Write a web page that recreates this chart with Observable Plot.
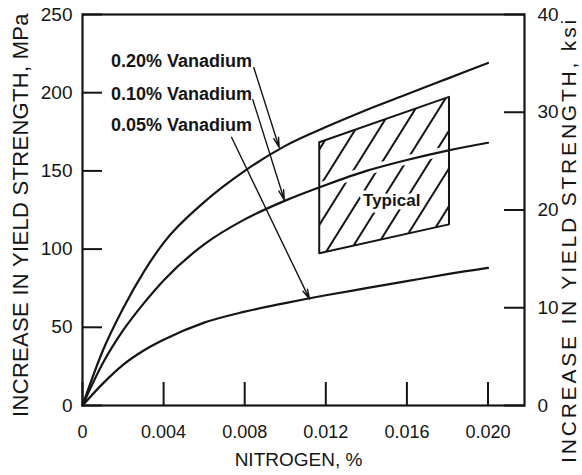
<!DOCTYPE html>
<html><head><meta charset="utf-8">
<script src="https://cdn.jsdelivr.net/npm/d3@7"></script>
<script src="https://cdn.jsdelivr.net/npm/@observablehq/plot@0.6"></script>
<style>body{margin:0;background:#fff}</style>
</head><body><div id="chart"></div>
<script>
// Nitrogen content, % (x) and increase in yield strength, MPa (y)
const nitrogen = [0, 0.001, 0.002, 0.003, 0.004, 0.006, 0.008, 0.010, 0.012, 0.014, 0.016, 0.018, 0.020];
const v020 = [0, 35, 62, 85, 104, 130, 150, 166, 178, 189, 199, 209, 219];
const v010 = [0, 27, 48, 65, 80, 103, 119, 131, 141, 150, 157, 163, 168];
const v005 = [0, 14, 26, 35, 42, 53, 60, 65.5, 70.5, 75, 79.5, 84, 88];

// "Typical" hatched band
const boxN = [0.0117, 0.0181];
const boxLow = [97, 115.5];
const boxHigh = [168, 197];
const typicalN = 0.01525, typicalY = 131;

// curve labels and leader arrows
const labelText = ["0.20% Vanadium", "0.10% Vanadium", "0.05% Vanadium"];
const labelN = [0.0014, 0.0014, 0.0014];
const labelY = [220, 199, 179];
const leadN1 = [0.00845, 0.0084, 0.00735];
const leadY1 = [216, 195.5, 171.5];
const leadN2 = [0.0097, 0.00995, 0.0112];
const leadY2 = [165, 131.5, 68];

// ticks
const xTicks = [0, 0.004, 0.008, 0.012, 0.016, 0.020];
const mpaTicks = [0, 50, 100, 150, 200, 250];
const ksiTicks = [0, 10, 20, 30, 40];
const ksiToAxis = 250 / 40;

const rows = (ys) => nitrogen.map((n, i) => ({n, v: ys[i]}));
const box = boxN.map((n, i) => ({n, lo: boxLow[i], hi: boxHigh[i]}));
const ink = "#151515";

const svg = Plot.plot({
  width: 582, height: 475,
  marginLeft: 82, marginRight: 58, marginTop: 14, marginBottom: 70,
  style: {fontFamily: "'Liberation Sans', Arial, sans-serif", color: ink, background: "#fff"},
  x: {type: "linear", domain: [0, 0.0218]},
  y: {type: "linear", domain: [0, 250]},
  marks: [
    Plot.areaY(box, {x: "n", y1: "lo", y2: "hi", fill: "url(#hatch)", curve: "linear"}),
    Plot.line(rows(v010), {x: "n", y: "v", stroke: "#fff", strokeWidth: 9, curve: "monotone-x"}),
    Plot.text(["Typical"], {x: typicalN, y: typicalY, text: d => d, fontSize: 17, fontWeight: "bold", fill: ink, stroke: "#fff", strokeWidth: 7}),
    Plot.areaY(box, {x: "n", y1: "lo", y2: "hi", fill: "none", stroke: ink, strokeWidth: 2, curve: "linear"}),
    Plot.line(rows(v020), {x: "n", y: "v", stroke: ink, strokeWidth: 2.2, curve: "monotone-x"}),
    Plot.line(rows(v010), {x: "n", y: "v", stroke: ink, strokeWidth: 2.2, curve: "monotone-x"}),
    Plot.line(rows(v005), {x: "n", y: "v", stroke: ink, strokeWidth: 2.2, curve: "monotone-x"}),
    Plot.arrow(labelText, {x1: (d, i) => leadN1[i], y1: (d, i) => leadY1[i], x2: (d, i) => leadN2[i], y2: (d, i) => leadY2[i], stroke: ink, strokeWidth: 1.4, headLength: 11, headAngle: 28}),
    Plot.text(labelText, {x: (d, i) => labelN[i], y: (d, i) => labelY[i], text: d => d, textAnchor: "start", fontSize: 18, fontWeight: "bold", fill: ink}),
    Plot.frame({stroke: ink, strokeWidth: 2.2}),
    Plot.axisX(xTicks, {anchor: "bottom", tickSize: -23, tickPadding: 43, strokeWidth: 2, fontSize: 18, label: null, tickFormat: d => d === 0 ? "0" : d.toFixed(3)}),
    Plot.axisY(mpaTicks, {anchor: "left", tickSize: -20, tickPadding: 30, strokeWidth: 2, fontSize: 19, label: null, tickFormat: d => String(d)}),
    Plot.axisY(ksiTicks.map(k => k * ksiToAxis), {anchor: "right", tickSize: -21, tickPadding: 34, strokeWidth: 2, fontSize: 19, label: null, tickFormat: d => String(Math.round(d / ksiToAxis))}),
    Plot.text(["INCREASE IN YIELD STRENGTH, MPa"], {frameAnchor: "left", rotate: -90, dx: -62, dy: 5, fontSize: 22, textAnchor: "middle", fill: ink}),
    Plot.text(["INCREASE IN YIELD STRENGTH, ksi"], {frameAnchor: "right", rotate: -90, dx: 45, dy: 30, fontSize: 21, textAnchor: "middle", fill: ink}),
    Plot.text(["NITROGEN, %"], {frameAnchor: "bottom", dy: 60, dx: -5, fontSize: 19, fill: ink})
  ]
});

// hatch pattern used by the "Typical" band
const defs = d3.select(svg).insert("defs", ":first-child");
const pat = defs.append("pattern").attr("id", "hatch").attr("patternUnits", "userSpaceOnUse")
  .attr("width", 20).attr("height", 20).attr("patternTransform", "rotate(32)");
pat.append("line").attr("x1", 10).attr("y1", -2).attr("x2", 10).attr("y2", 22).attr("stroke", ink).attr("stroke-width", 2);

// letter spacing for the titles
d3.select(svg).selectAll("text").filter(function() { return this.textContent === "INCREASE IN YIELD STRENGTH, ksi"; })
  .style("letter-spacing", "2.8px");
d3.select(svg).selectAll("text").filter(function() { return this.textContent === "INCREASE IN YIELD STRENGTH, MPa"; })
  .style("letter-spacing", "0.3px");

document.getElementById("chart").appendChild(svg);
</script>
</body></html>
